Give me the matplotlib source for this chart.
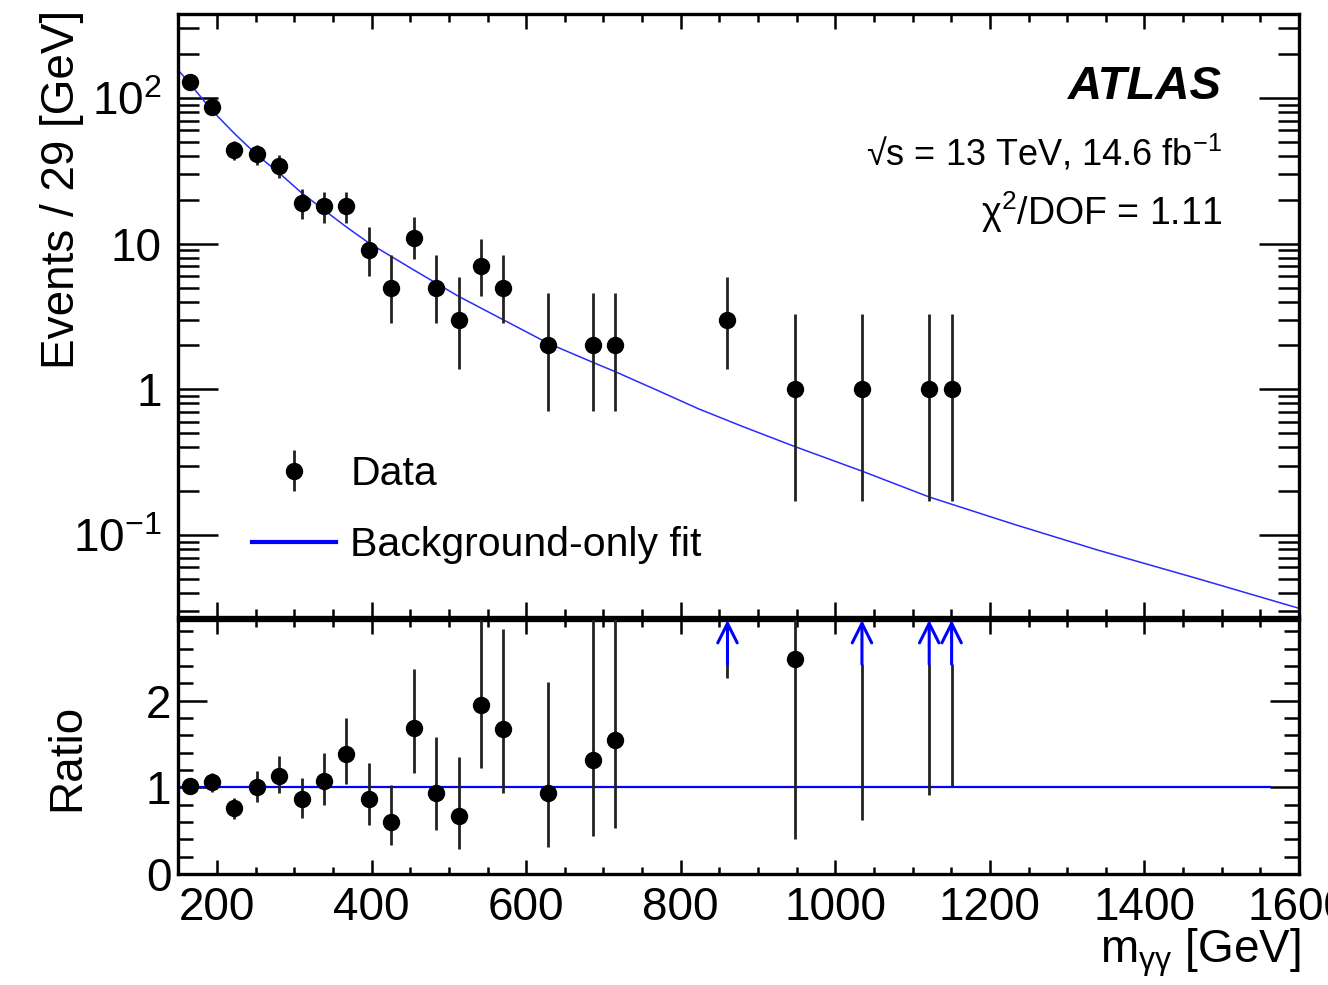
import numpy as np
import matplotlib
matplotlib.use("Agg")
import matplotlib.pyplot as plt
from matplotlib.ticker import FixedLocator, MultipleLocator, LogLocator, NullFormatter
from matplotlib.lines import Line2D

# ---------------- data ----------------
bin_centers = [164.5, 193.5, 222.5, 251.5, 280.5, 309.5, 338.5, 367.5, 396.5, 425.5,
               454.5, 483.5, 512.5, 541.5, 570.5, 628.5, 686.5, 715.5, 860.5, 947.5,
               1034.5, 1121.5, 1150.5]
events = [128, 87, 44, 41, 34, 19, 18, 18, 9, 5, 11, 5, 3, 7, 5, 2, 2, 2, 3, 1, 1, 1, 1]
events_lo = [117, 78, 37.5, 34.7, 28.3, 14.7, 13.8, 13.8, 6.0, 2.84, 7.8, 2.84, 1.37,
             4.4, 2.84, 0.71, 0.71, 0.71, 1.37, 0.17, 0.17, 0.17, 0.17]
events_hi = [139, 97, 51, 47.9, 40.4, 23.9, 22.7, 22.7, 13.1, 8.4, 15.3, 8.4, 5.9,
             10.8, 8.4, 4.6, 4.6, 4.6, 5.9, 3.3, 3.3, 3.3, 3.3]

ratio = [1.015, 1.06, 0.76, 1.0, 1.13, 0.86, 1.07, 1.38, 0.86, 0.60, 1.68, 0.93, 0.67,
         1.95, 1.67, 0.93, 1.32, 1.55, 4.95, 2.48, 3.65, 5.5, 5.9]
ratio_lo = [0.93, 0.95, 0.64, 0.83, 0.93, 0.65, 0.80, 1.04, 0.57, 0.33, 1.17, 0.51, 0.29,
            1.22, 0.93, 0.31, 0.44, 0.53, 2.26, 0.40, 0.62, 0.91, 1.01]
ratio_hi = [1.10, 1.17, 0.88, 1.19, 1.36, 1.11, 1.40, 1.80, 1.28, 1.03, 2.37, 1.58, 1.35,
            3.3, 2.83, 2.22, 3.05, 3.6, 9.9, 8.2, 12.0, 18.0, 19.0]

fit_x = [150, 164.5, 193.5, 222.5, 251.5, 280.5, 309.5, 338.5, 367.5, 396.5, 454.5,
         512.5, 570.5, 628.5, 686.5, 715.5, 765, 823, 880, 947.5, 1035, 1122, 1230,
         1339, 1470, 1600]
fit_y = [155, 126, 82, 57, 40.7, 30.5, 22.3, 17.0, 13.0, 10.1, 6.6, 4.35, 3.0, 2.07,
         1.53, 1.32, 1.01, 0.735, 0.556, 0.405, 0.274, 0.182, 0.119, 0.079, 0.050,
         0.0314]
fit_range = (150, 1562)

x_ticks = [200, 400, 600, 800, 1000, 1200, 1400, 1600]
y_ticks = [0.1, 1, 10, 100]
y_ticklabels = [r'$10^{-1}$', '1', '10', r'$10^{2}$']
ratio_ticks = [0, 1, 2]

# ---------------- style ----------------
plt.rcParams['font.family'] = ['Liberation Sans', 'DejaVu Sans']
plt.rcParams['mathtext.fontset'] = 'custom'
plt.rcParams['mathtext.rm'] = 'Liberation Sans'
plt.rcParams['mathtext.it'] = 'Liberation Sans:italic'
plt.rcParams['mathtext.bf'] = 'Liberation Sans:bold'

W, H = 1328, 985
fig = plt.figure(figsize=(W / 100, H / 100), dpi=100)
L, R = 178.4, 1299
ax1 = fig.add_axes([L / W, (H - 616.7) / H, (R - L) / W, (616.7 - 14) / H])
ax2 = fig.add_axes([L / W, (H - 874) / H, (R - L) / W, (874 - 620) / H])

blue = '#0000ff'
tick_fs = 33

for ax in (ax1, ax2):
    ax.set_xlim(150, 1600)
    ax.xaxis.set_major_locator(FixedLocator(x_ticks))
    ax.xaxis.set_minor_locator(MultipleLocator(50))
    for sp in ax.spines.values():
        sp.set_linewidth(2.4)
    ax.tick_params(which='both', direction='in', top=True, right=True, width=1.8,
                   labelsize=tick_fs)

# upper panel
ax1.set_yscale('log')
ax1.set_ylim(0.0275, 377)
ax1.yaxis.set_major_locator(FixedLocator(y_ticks))
ax1.set_yticklabels(y_ticklabels)
ax1.yaxis.set_minor_locator(LogLocator(base=10, subs=np.arange(2, 10)))
ax1.yaxis.set_minor_formatter(NullFormatter())
ax1.tick_params(axis='x', which='major', length=11, labelbottom=False)
ax1.tick_params(axis='x', which='minor', length=6)
ax1.tick_params(axis='y', which='major', length=29, pad=12)
ax1.tick_params(axis='y', which='minor', length=15)

ax1.plot(fit_x, fit_y, color='#2a2aff', lw=1.1, zorder=2)
ev = np.array(events, float)
ax1.errorbar(bin_centers, ev,
             yerr=[ev - np.array(events_lo), np.array(events_hi) - ev],
             xerr=10, fmt='o', color='black', ecolor='#222222', ms=11.5,
             elinewidth=2.0, capsize=0, zorder=3)

# legend
h_data = ax1.errorbar([np.nan], [np.nan], yerr=[[1], [1]], fmt='o', color='black',
                      ecolor='#222222', ms=11.5, elinewidth=2.0, capsize=0)
h_fit = Line2D([], [], color=blue, lw=3)
ax1.legend([h_data, h_fit], ['Data', 'Background-only fit'], loc='upper left',
           bbox_to_anchor=(0.0657, 0.268), frameon=False, fontsize=29.5,
           handlelength=2.05, handletextpad=0.35, labelspacing=0.8,
           borderpad=0, borderaxespad=0)

# labels in upper panel
ax1.text(0.931, 0.879, 'ATLAS', transform=ax1.transAxes, ha='right', va='center',
         fontsize=34, fontweight='bold', fontstyle='italic')
ax1.text(0.931, 0.769, '√s = 13 TeV, 14.6 fb$^{-1}$', transform=ax1.transAxes,
         ha='right', va='center', fontsize=26)
ax1.text(0.931, 0.671, 'χ$^{2}$/DOF = 1.11', transform=ax1.transAxes,
         ha='right', va='center', fontsize=27)

# ratio panel
ratio_top = 2.93
arrow_tail = 2.42
ax2.set_ylim(0, ratio_top)
ax2.yaxis.set_major_locator(FixedLocator(ratio_ticks))
ax2.yaxis.set_minor_locator(MultipleLocator(0.2))
ax2.tick_params(axis='x', which='major', length=10, pad=9)
ax2.tick_params(axis='x', which='minor', length=5)
ax2.tick_params(axis='y', which='major', length=21, pad=5)
ax2.tick_params(axis='y', which='minor', length=11)

ax2.plot(fit_range, [1, 1], color=blue, lw=1.6, zorder=2)
r = np.array(ratio)
rlo = np.array(ratio_lo)
rhi = np.array(ratio_hi)
xc = np.array(bin_centers)
inside = r <= ratio_top
ax2.errorbar(xc[inside], r[inside], yerr=[r[inside] - rlo[inside], rhi[inside] - r[inside]],
             xerr=10, fmt='o', color='black', ecolor='#222222', ms=11.5,
             elinewidth=2.0, capsize=0, zorder=3)
for x, lo in zip(xc[~inside], rlo[~inside]):
    ax2.vlines(x, lo, arrow_tail, color='#222222', lw=2.0, zorder=3)
    ax2.annotate('', xy=(x, ratio_top), xytext=(x, arrow_tail),
                 arrowprops=dict(arrowstyle='->,head_length=0.5,head_width=0.25',
                                 color=blue, lw=2.2, shrinkA=0, shrinkB=0,
                                 mutation_scale=28), zorder=4)

# axis titles
fig.text(62 / W, 1 - 10 / H, 'Events / 29 [GeV]', rotation=90, ha='center', va='top',
         fontsize=33)
fig.text(67 / W, 1 - 757 / H, 'Ratio', rotation=90, ha='center', va='center',
         fontsize=33)
fig.text(1301 / W, 1 - 953 / H, r'm$_{\mathrm{γγ}}$ [GeV]', ha='right', va='center',
         fontsize=33)

fig.savefig('out.png', dpi=100)
